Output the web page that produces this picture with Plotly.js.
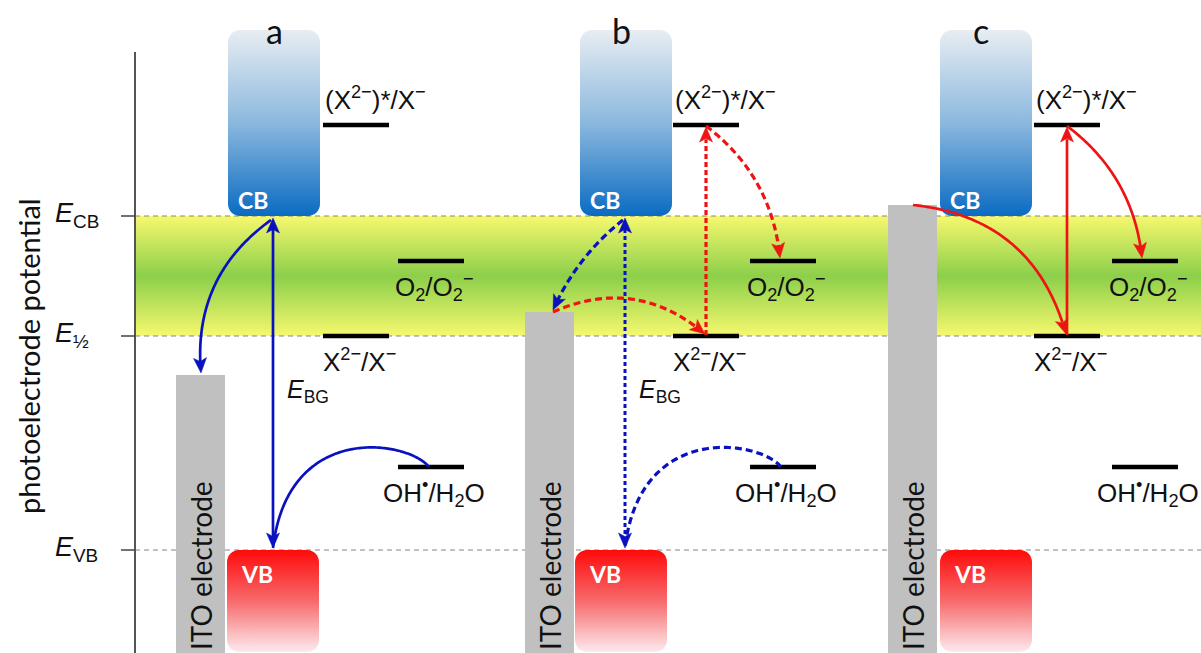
<!DOCTYPE html>
<html><head><meta charset="utf-8">
<script src="https://cdn.plot.ly/plotly-3.0.1.min.js"></script>
<style>html,body{margin:0;padding:0;background:#fff;}#chart{width:1201px;height:653px;}</style>
</head><body><div id="chart"></div>
<script>
// ---------------- data (potential, arbitrary units, increasing downward) ----------------
const refLevelNames = ['CB', '½', 'VB'];
const refLevelValues = [216, 336, 550];            // E_CB, E_1/2, E_VB
const panelNames = ['a', 'b', 'c'];
const itoFermiLevels = [375, 312, 205];            // ITO electrode level in panels a, b, c
const redoxNames = ['(X<sup>2−</sup>)*/X<sup>−</sup>', 'O<sub>2</sub>/O<sub>2</sub><sup>−</sup>',
                    'X<sup>2−</sup>/X<sup>−</sup>', 'OH<sup>•</sup>/H<sub>2</sub>O'];
const redoxValues = [125, 261, 336, 467];
const redoxColumn = [0, 1, 0, 1];

// ---------------- layout geometry ----------------
const W = 1201, H = 653, AX_X = 135;
const cbLeft = [228, 580, 940], vbLeft = [227, 575, 940], boxW = 92, boxTop = 30, boxBot = 652, rad = 12;
const itoLeft = [176, 525, 888], itoW = 49;
const lvlCol = [[323, 673, 1034], [398, 750, 1112]], lvlW = 66;
const E_CB = refLevelValues[0], E_H = refLevelValues[1], E_VB = refLevelValues[2];

const BLUE = '#0a12c0', RED = '#ee1414';
const SANS = 'Liberation Sans, Arial, sans-serif', CAL = 'Lato, Open Sans, sans-serif';

const traces = [];
const shapes = [];
const ann = [];

// green/yellow band between E_CB and E_1/2
traces.push({x:[AX_X, W, W, AX_X, AX_X], y:[E_CB, E_CB, E_H, E_H, E_CB], mode:'none', fill:'toself',
  fillgradient:{type:'vertical', colorscale:[[0,'#f6f86e'],[0.5,'#8ccf4a'],[1,'#f6f86e']], start:E_CB, stop:E_H},
  hoverinfo:'skip', showlegend:false});

// dashed reference lines
const dx = [], dy = [];
refLevelValues.forEach(v => { dx.push(AX_X, W, null); dy.push(v, v, null); });
traces.push({x:dx, y:dy, mode:'lines', line:{color:'#858585', width:1.2, dash:'5px,4px'}, hoverinfo:'skip', showlegend:false});

// ITO electrodes
panelNames.forEach((p, i) => {
  const x0 = itoLeft[i], x1 = x0 + itoW, y0 = itoFermiLevels[i];
  traces.push({x:[x0, x1, x1, x0, x0], y:[y0, y0, H, H, y0], mode:'none', fill:'toself', fillcolor:'#c0c0c0',
    hoverinfo:'skip', showlegend:false});
});

function roundRect(x0, y0, x1, y1, r) {
  const xs = [], ys = [];
  const cs = [[x1 - r, y0 + r, -90], [x1 - r, y1 - r, 0], [x0 + r, y1 - r, 90], [x0 + r, y0 + r, 180]];
  cs.forEach(c => { for (let k = 0; k <= 8; k++) { const a = (c[2] + k * 90 / 8) * Math.PI / 180;
    xs.push(c[0] + r * Math.cos(a)); ys.push(c[1] + r * Math.sin(a)); } });
  xs.push(xs[0]); ys.push(ys[0]);
  return [xs, ys];
}
// CB and VB boxes
panelNames.forEach((p, i) => {
  let [xs, ys] = roundRect(cbLeft[i], boxTop, cbLeft[i] + boxW, E_CB, rad);
  traces.push({x:xs, y:ys, mode:'none', fill:'toself',
    fillgradient:{type:'vertical', colorscale:[[0,'#e8edf2'],[0.5,'#8bb8de'],[1,'#0a6bc2']], start:boxTop, stop:E_CB},
    hoverinfo:'skip', showlegend:false});
  [xs, ys] = roundRect(vbLeft[i], E_VB, vbLeft[i] + boxW, boxBot, rad);
  traces.push({x:xs, y:ys, mode:'none', fill:'toself',
    fillgradient:{type:'vertical', colorscale:[[0,'#ff0a0a'],[0.5,'#f76a6c'],[1,'#fdeaee']], start:E_VB, stop:boxBot},
    hoverinfo:'skip', showlegend:false});
  ann.push({x:cbLeft[i] + 8, y:E_CB - 16, text:'<b>CB</b>', xanchor:'left', yanchor:'middle', showarrow:false,
    font:{family:CAL, size:23, color:'#fff'}});
  ann.push({x:vbLeft[i] + 12, y:E_VB + 24, text:'<b>VB</b>', xanchor:'left', yanchor:'middle', showarrow:false,
    font:{family:CAL, size:23, color:'#fff'}});
  ann.push({x:cbLeft[i] + boxW / 2 - (i ? 5 : 0), y:boxTop, text:p, xanchor:'center', yanchor:'middle', showarrow:false,
    font:{family:CAL, size:34, color:'#111'}});
  ann.push({x:itoLeft[i] + itoW / 2, y:H - 1, text:'ITO electrode', textangle:-90, xanchor:'center', yanchor:'bottom',
    showarrow:false, font:{family:CAL, size:28, color:'#111'}});
});

// redox level lines and labels
panelNames.forEach((p, i) => {
  redoxValues.forEach((v, j) => {
    const x0 = lvlCol[redoxColumn[j]][i];
    shapes.push({type:'line', xref:'x', yref:'y', x0:x0, x1:x0 + lvlW, y0:v, y1:v, line:{color:'#000', width:4.5}});
    if (j === 0) ann.push({x:x0, y:v - 8, text:redoxNames[j], xanchor:'left', yanchor:'bottom', showarrow:false,
        font:{family:SANS, size:26, color:'#111'}});
    else ann.push({x:x0 + lvlW / 2 + 3, y:v + 6, text:redoxNames[j], xanchor:'center', yanchor:'top', showarrow:false,
        font:{family:SANS, size:26, color:'#111'}});
  });
});

// axis, ticks and reference-level labels
shapes.push({type:'line', xref:'x', yref:'y', x0:AX_X, x1:AX_X, y0:52, y1:H, line:{color:'#555', width:2}});
refLevelValues.forEach((v, k) => {
  shapes.push({type:'line', xref:'x', yref:'y', x0:121, x1:AX_X, y0:v, y1:v, line:{color:'#444', width:1.5}});
  ann.push({x:53, y:v - 1, text:'<i>E</i><sub>' + refLevelNames[k] + '</sub>', xanchor:'left', yanchor:'middle',
    showarrow:false, font:{family:SANS, size:27, color:'#111'}});
});
ann.push({x:28, y:356, text:'photoelectrode potential', textangle:-90, xanchor:'center', yanchor:'middle',
  showarrow:false, font:{family:CAL, size:29, color:'#111'}});

// ---------------- arrows ----------------
function bez(P, t) {
  if (P.length === 2) return [P[0][0] + (P[1][0] - P[0][0]) * t, P[0][1] + (P[1][1] - P[0][1]) * t];
  if (P.length === 3) { const a = (1 - t) * (1 - t), b = 2 * (1 - t) * t, c = t * t;
    return [a * P[0][0] + b * P[1][0] + c * P[2][0], a * P[0][1] + b * P[1][1] + c * P[2][1]]; }
  const a = (1 - t) ** 3, b = 3 * (1 - t) ** 2 * t, c = 3 * (1 - t) * t * t, d = t ** 3;
  return [a * P[0][0] + b * P[1][0] + c * P[2][0] + d * P[3][0], a * P[0][1] + b * P[1][1] + c * P[2][1] + d * P[3][1]];
}
function bend(p0, p1, b) {
  const mx = (p0[0] + p1[0]) / 2, my = (p0[1] + p1[1]) / 2, ddx = p1[0] - p0[0], ddy = p1[1] - p0[1];
  const L = Math.hypot(ddx, ddy);
  return [p0, [mx - ddy / L * b, my + ddx / L * b], p1];
}
const HL = 15, HW = 6.5, HN = 3.5;
function head(tip, from, color) {
  let ux = tip[0] - from[0], uy = tip[1] - from[1]; const L = Math.hypot(ux, uy); ux /= L; uy /= L;
  const bx = tip[0] - HL * ux, by = tip[1] - HL * uy, px = -uy, py = ux;
  const nx = tip[0] - (HL - HN) * ux, ny = tip[1] - (HL - HN) * uy;
  shapes.push({type:'path', xref:'x', yref:'y', fillcolor:color, line:{color:color, width:0.5},
    path:`M${tip[0]},${tip[1]} L${bx + HW * px},${by + HW * py} L${nx},${ny} L${bx - HW * px},${by - HW * py} Z`});
}
function arrow(P, color, width, dash, hStart, hEnd) {
  let pts = []; for (let k = 0; k <= 120; k++) pts.push(bez(P, k / 120));
  const cut = HL - HN - 1;
  const s = pts[0], e = pts[pts.length - 1];
  if (hEnd) { let k = pts.length - 1; while (k > 0 && Math.hypot(pts[k][0] - e[0], pts[k][1] - e[1]) < cut) k--; pts = pts.slice(0, k + 1); }
  if (hStart) { let k = 0; while (k < pts.length - 1 && Math.hypot(pts[k][0] - s[0], pts[k][1] - s[1]) < cut) k++; pts = pts.slice(k); }
  shapes.push({type:'path', xref:'x', yref:'y', line:{color:color, width:width, dash:dash},
    path:'M' + pts.map(q => q[0].toFixed(2) + ',' + q[1].toFixed(2)).join(' L')});
  if (hEnd) head(e, pts[pts.length - 1], color);
  if (hStart) head(s, pts[0], color);
}

// blue arrows (panels a solid, b dashed)
[0, 1].forEach(i => {
  const dashed = i === 1;
  const cx = cbLeft[i] + boxW / 2 - 1;
  const itoX = itoLeft[i] + 25 + (i ? 3 : 0), itoY = itoFermiLevels[i] - 2;
  const ohX = lvlCol[1][i] + 31, ohY = redoxValues[3];
  arrow([[cx, E_CB + 2], [cx, E_VB - 2]], BLUE, dashed ? 3 : 2.7, dashed ? '4px,3px' : 'solid', true, true);
  arrow(bend([cx - 2, E_CB + 4], [itoX, itoY], dashed ? 14 : 48), BLUE, dashed ? 3.2 : 2.7, dashed ? '7px,4px' : 'solid', false, true);
  arrow([[ohX, ohY], [ohX - 20, ohY - 26], [cx + 15, ohY - 47], [cx, E_VB - 2]], BLUE, dashed ? 3.2 : 2.7,
        dashed ? '7px,4px' : 'solid', false, false);
  ann.push({x:cx + 12, y:391, text:'<i>E</i><sub>BG</sub>', xanchor:'left', yanchor:'middle', showarrow:false,
    font:{family:SANS, size:25, color:'#111'}});
});

// red arrows (panels b dashed, c solid)
[1, 2].forEach(i => {
  const dashed = i === 1;
  const xs = lvlCol[0][i] + 33, o2X = lvlCol[1][i] + 30;
  const itoX = itoLeft[i] + 25 + (i === 1 ? 3 : 0), itoY = itoFermiLevels[i];
  const w = dashed ? 3.2 : 2.7;
  arrow([[xs, E_H - 1], [xs, redoxValues[0] + 2]], RED, w, dashed ? '5px,3px' : 'solid', false, true);
  arrow(bend([xs, redoxValues[0] + 1], [o2X, redoxValues[1] - 3], -33), RED, w, dashed ? '7px,4px' : 'solid', false, true);
  arrow(bend([itoX, itoY], [xs - 1, redoxValues[2] - 2], dashed ? -48 : -68), RED, w, dashed ? '7px,4px' : 'solid', false, true);
});

const layout = {
  width:W, height:H, margin:{l:0, r:0, t:0, b:0}, paper_bgcolor:'#fff', plot_bgcolor:'#fff',
  xaxis:{range:[0, W], visible:false, fixedrange:true},
  yaxis:{range:[H, 0], visible:false, fixedrange:true},
  shapes:shapes, annotations:ann, showlegend:false
};
Plotly.newPlot('chart', traces, layout, {staticPlot:true, displayModeBar:false});
</script></body></html>
